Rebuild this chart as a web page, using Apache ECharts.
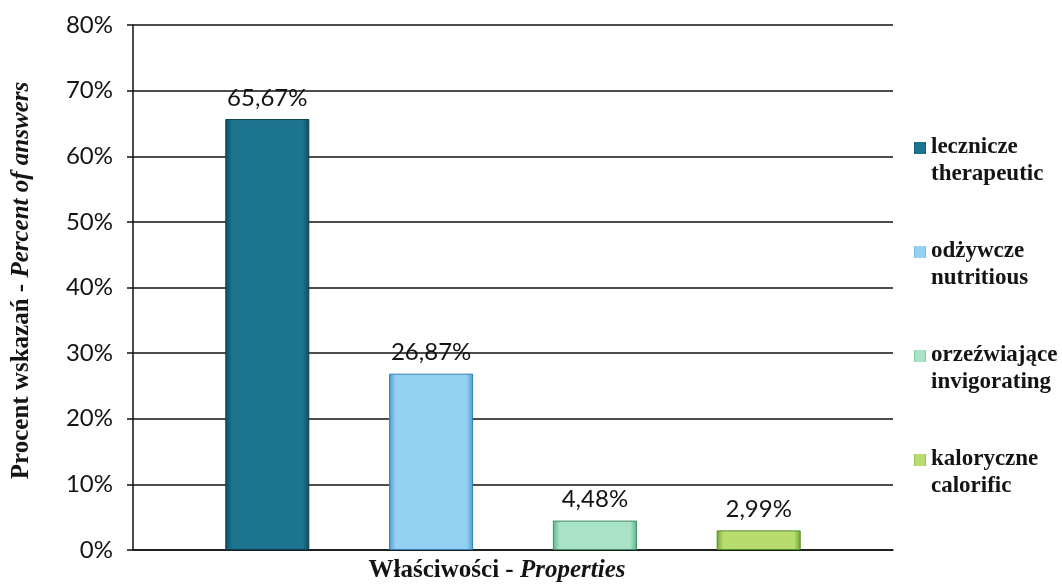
<!DOCTYPE html>
<html>
<head>
<meta charset="utf-8">
<script src="https://cdn.jsdelivr.net/npm/echarts@6/dist/echarts.min.js"></script>
<style>
  html, body { margin: 0; padding: 0; background: #ffffff; }
  #chart { width: 1062px; height: 584px; }
</style>
</head>
<body>
<div id="chart"></div>
<script>
// Survey answers: perceived properties (share of answers, %)
const seriesNames = ['lecznicze\ntherapeutic', 'odżywcze\nnutritious', 'orzeźwiające\ninvigorating', 'kaloryczne\ncalorific'];
const seriesValues = [65.67, 26.87, 4.48, 2.99];
const valueLabels = ['65,67%', '26,87%', '4,48%', '2,99%'];
const yTicks = [0, 10, 20, 30, 40, 50, 60, 70, 80];

// Bar fills: darker bevelled edges, lighter centre
const palette = [
  { edge: '#0d4d60', mid: '#1d7490', border: '#0b3f4f' },
  { edge: '#4d9fd2', mid: '#94d0f2', border: '#2f7fb0' },
  { edge: '#5fb58a', mid: '#a9e2c6', border: '#3c8a62' },
  { edge: '#6fa832', mid: '#b9dc70', border: '#4e8a22' }
];

function barFill(p) {
  return {
    type: 'linear', x: 0, y: 0, x2: 1, y2: 0,
    colorStops: [
      { offset: 0, color: p.edge },
      { offset: 0.08, color: p.mid },
      { offset: 0.92, color: p.mid },
      { offset: 1, color: p.edge }
    ]
  };
}

const chart = echarts.init(document.getElementById('chart'), null, { renderer: 'canvas' });

// Legend marker sits beside the first text line of each two-line entry;
// the two zero-length segments only stretch the icon box to the text height.
const legendIcon = 'path://M0,0L0,0M0,8h12v12h-12zM0,54L0,54';

const series = seriesNames.map((name, i) => ({
  name: name,
  type: 'bar',
  data: [seriesValues[i]],
  barWidth: 84,
  barGap: '95%',
  itemStyle: {
    color: barFill(palette[i]),
    borderColor: palette[i].border,
    borderWidth: 1
  },
  label: {
    show: true,
    position: 'top',
    distance: 9,
    formatter: () => valueLabels[i],
    fontFamily: 'Lato',
    fontSize: 24,
    color: '#141414'
  }
}));

const titleRich = {
  b: { fontFamily: 'Liberation Serif', fontWeight: 'bold', fontSize: 25, color: '#141414' },
  bi: { fontFamily: 'Liberation Serif', fontWeight: 'bold', fontStyle: 'italic', fontSize: 25, color: '#141414' }
};

chart.setOption({
  backgroundColor: '#ffffff',
  animation: false,
  grid: { left: 133, right: 169, top: 25, bottom: 34, containLabel: false, outerBoundsMode: 'none' },
  legend: {
    orient: 'vertical',
    left: 909,
    top: 129,
    icon: legendIcon,
    itemWidth: 12,
    itemHeight: 54,
    itemGap: 50,
    itemStyle: { borderWidth: 0 },
    data: seriesNames,
    textStyle: {
      fontFamily: 'Liberation Serif',
      fontWeight: 'bold',
      fontSize: 23,
      lineHeight: 27,
      color: '#141414'
    }
  },
  xAxis: {
    type: 'category',
    data: [''],
    name: '{b|Właściwości - }{bi|Properties}',
    nameLocation: 'middle',
    nameGap: 8,
    nameTextStyle: { padding: [0, 32, 0, 0], rich: titleRich },
    axisLine: { show: true, lineStyle: { color: '#111', width: 1.5 } },
    axisTick: { show: false },
    axisLabel: { show: false }
  },
  yAxis: {
    type: 'value',
    min: yTicks[0],
    max: yTicks[yTicks.length - 1],
    interval: 10,
    name: '{b|Procent wskazań - }{bi|Percent of answers}',
    nameLocation: 'middle',
    nameRotate: 90,
    nameGap: 99,
    nameTextStyle: { padding: [0, 0, 0, 14], rich: titleRich },
    axisLine: { show: true, lineStyle: { color: '#111', width: 1.5 } },
    axisTick: { show: true, inside: false, length: 6, lineStyle: { color: '#111', width: 1.5 } },
    axisLabel: {
      margin: 20,
      formatter: v => v + '%',
      fontFamily: 'Lato',
      fontSize: 24,
      color: '#141414'
    },
    splitLine: { show: true, lineStyle: { color: '#111', width: 1.5 } }
  },
  series: series
});
</script>
</body>
</html>
